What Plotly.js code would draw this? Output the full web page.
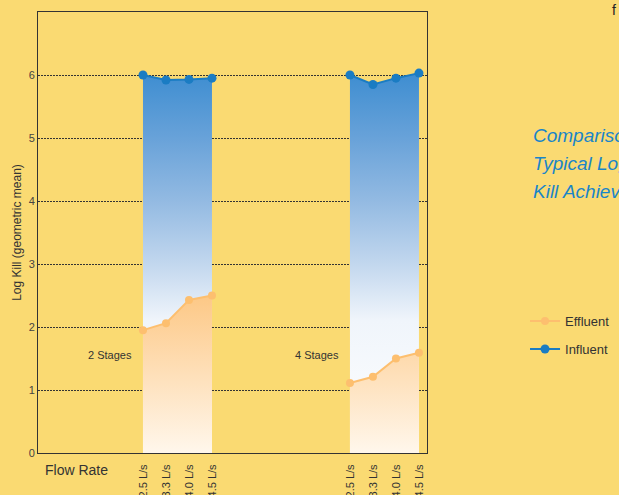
<!DOCTYPE html>
<html>
<head>
<meta charset="utf-8">
<script src="https://cdn.plot.ly/plotly-3.0.1.min.js"></script>
<style>html,body{margin:0;padding:0;background:#FADA72;overflow:hidden}</style>
</head>
<body>
<div id="chart" style="width:619px;height:495px"></div>
<script>
// Data
const flowLabels = ["2.5 L/s", "3.3 L/s", "4.0 L/s", "4.5 L/s"];
const groupNames = ["2 Stages", "4 Stages"];
const posG1 = [0, 1, 2, 3];
const posG2 = [9, 10, 11, 12];
const influentG1 = [6.00, 5.92, 5.93, 5.95];
const influentG2 = [6.00, 5.85, 5.95, 6.03];
const effluentG1 = [1.95, 2.06, 2.43, 2.50];
const effluentG2 = [1.11, 1.21, 1.50, 1.59];
const titleLines = ["Comparison of", "Typical Log", "Kill Achieved"];

const blue = '#1A7CC3';
const orange = '#FDBF6F';

function inflTrace(x, y) {
  return {
    x: x, y: y, type: 'scatter', mode: 'lines+markers', name: 'Influent',
    showlegend: false,
    line: {color: blue, width: 2},
    marker: {color: blue, size: 9},
    fill: 'tozeroy',
    fillgradient: {type: 'vertical', start: 0, stop: 6,
      colorscale: [[0, '#ffffff'], [0.35, '#f0f5fb'], [0.5, '#c2d7ee'], [0.667, '#93bae2'], [0.833, '#68a2d9'], [1, '#3f8ed1']]},
    hoverinfo: 'skip'
  };
}
function efflTrace(x, y) {
  return {
    x: x, y: y, type: 'scatter', mode: 'lines+markers', name: 'Effluent',
    showlegend: false,
    line: {color: orange, width: 2},
    marker: {color: orange, size: 8},
    fill: 'tozeroy',
    fillgradient: {type: 'vertical', start: 0, stop: 2.5,
      colorscale: [[0, '#fff7ec'], [1, '#fdc886']]},
    hoverinfo: 'skip'
  };
}

const data = [
  inflTrace(posG1, influentG1),
  inflTrace(posG2, influentG2),
  efflTrace(posG1, effluentG1),
  efflTrace(posG2, effluentG2),
  // legend entries
  {x: [null], y: [null], type: 'scatter', mode: 'lines+markers', name: 'Effluent', legendgroup: 'e', legendrank: 1,
   line: {color: orange, width: 2}, marker: {color: orange, size: 8}},
  {x: [null], y: [null], type: 'scatter', mode: 'lines+markers', name: 'Influent', legendgroup: 'i', legendrank: 2,
   line: {color: blue, width: 2}, marker: {color: blue, size: 9}}
];

const font = 'Liberation Sans, Arial, sans-serif';
const titleAnn = titleLines.map((t, i) => ({
  xref: 'paper', yref: 'paper', x: 1.268, y: 0.721 - i * 0.0635, xanchor: 'left', yanchor: 'middle',
  text: '<i>' + t + '</i>', showarrow: false, font: {size: 19, color: '#1A85C8'}
}));
const layout = {
  width: 619, height: 495,
  paper_bgcolor: '#FADA72', plot_bgcolor: '#FADA72',
  margin: {l: 38, r: 192, t: 12, b: 42, autoexpand: false},
  font: {family: font, color: '#333', size: 11},
  showlegend: true,
  legend: {x: 1.252, xanchor: 'left', y: 0.333, yanchor: 'top', bgcolor: 'rgba(0,0,0,0)',
    font: {size: 13, color: '#333'}, tracegroupgap: 8, traceorder: 'grouped'},
  xaxis: {
    range: [-4.565, 12.35], showgrid: false, zeroline: false, automargin: false,
    showline: true, linecolor: '#333', linewidth: 1, mirror: true,
    tickmode: 'array', tickvals: posG1.concat(posG2), ticktext: flowLabels.concat(flowLabels),
    tickangle: -90, ticks: '', ticklabelstandoff: 6, tickfont: {size: 11, color: '#333'}
  },
  yaxis: {
    range: [0, 7], showgrid: true, gridcolor: '#333', griddash: '1.5px,1.5px', gridwidth: 1,
    zeroline: false, showline: true, linecolor: '#333', linewidth: 1, mirror: true, automargin: false,
    tickvals: [0, 1, 2, 3, 4, 5, 6], ticks: '', tickfont: {size: 11, color: '#444'},
    title: {text: 'Log Kill (geometric mean)', font: {size: 12, color: '#333'}, standoff: 4}
  },
  annotations: [
    {xref: 'x', yref: 'y', x: -0.4, y: 1.55, text: groupNames[0], showarrow: false, xanchor: 'right', font: {size: 11, color: '#333'}},
    {xref: 'x', yref: 'y', x: 8.6, y: 1.55, text: groupNames[1], showarrow: false, xanchor: 'right', font: {size: 11, color: '#333'}},
    {xref: 'paper', yref: 'paper', x: 0.013, y: -0.017, yanchor: 'top', xanchor: 'left', text: 'Flow Rate', showarrow: false, font: {size: 14, color: '#333'}},
    {xref: 'paper', yref: 'paper', x: 1.471, y: 1.005, xanchor: 'left', yanchor: 'middle', text: 'f', showarrow: false, font: {size: 14, color: '#222'}}
  ].concat(titleAnn)
};
Plotly.newPlot('chart', data, layout, {displayModeBar: false, staticPlot: true});
</script>
</body>
</html>
